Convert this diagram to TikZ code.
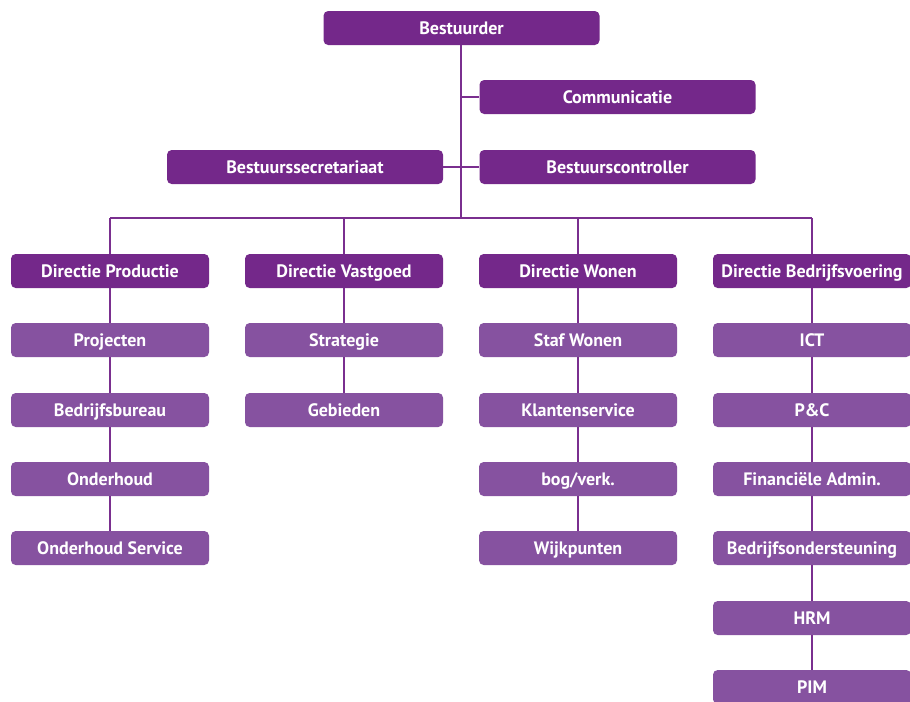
\documentclass[tikz,border=0pt]{standalone}
\usepackage{fontspec}
\setmainfont{PT Sans}
\definecolor{boxdark}{HTML}{74288A}
\definecolor{boxlight}{HTML}{8652A0}
\definecolor{linkcol}{HTML}{7A2F8F}
\begin{document}
\begin{tikzpicture}[x=0.75pt,y=-0.75pt,
  box/.style={rounded corners=3.5pt,minimum width=148.5pt,minimum height=25.5pt,
    inner sep=0pt,text height=9.5pt,text depth=0pt,text=white,
    font=\fontsize{13.5}{15}\selectfont\bfseries,anchor=center},
  topbox/.style={box,fill=boxdark,minimum width=207pt},
  headbox/.style={box,fill=boxdark},
  unitbox/.style={box,fill=boxlight},
  link/.style={draw=linkcol,line width=0.9pt}]
\useasboundingbox (0,0) rectangle (910,701);
% board level
\node[topbox] (best) at (461.5,28) {Bestuurder};
\node[topbox] (comm) at (617.5,97) {Communicatie};
\node[topbox] (secr) at (305,167) {Bestuurssecretariaat};
\node[topbox] (ctrl) at (617.5,167) {Bestuurscontroller};
\coordinate (spine) at (461,218);
\coordinate (jc) at (461,97);
\coordinate (lend) at (110,218);
\coordinate (rend) at (812,218);
\draw[link] (best.south -| spine) -- (spine);
\draw[link] (jc) -- (comm.west);
\draw[link] (secr.east) -- (ctrl.west);
\draw[link] (lend) -- (rend);
% directorates
\node[headbox] (dp) at (110,271) {Directie Productie};
\node[headbox] (dv) at (344,271) {Directie Vastgoed};
\node[headbox] (dw) at (578,271) {Directie Wonen};
\node[headbox] (db) at (812,271) {Directie Bedrijfsvoering};
\foreach \d in {dp,dv,dw,db} \draw[link] (\d.north) -- (\d.north |- spine);
% Productie
\node[unitbox] (p1) at (110,340) {Projecten};
\node[unitbox] (p2) at (110,410) {Bedrijfsbureau};
\node[unitbox] (p3) at (110,479) {Onderhoud};
\node[unitbox] (p4) at (110,548) {Onderhoud Service};
% Vastgoed
\node[unitbox] (v1) at (344,340) {Strategie};
\node[unitbox] (v2) at (344,410) {Gebieden};
% Wonen
\node[unitbox] (w1) at (578,340) {Staf Wonen};
\node[unitbox] (w2) at (578,410) {Klantenservice};
\node[unitbox] (w3) at (578,479) {bog/verk.};
\node[unitbox] (w4) at (578,548) {Wijkpunten};
% Bedrijfsvoering
\node[unitbox] (b1) at (812,340) {ICT};
\node[unitbox] (b2) at (812,410) {P\&C};
\node[unitbox] (b3) at (812,479) {Financiële Admin.};
\node[unitbox] (b4) at (812,548) {Bedrijfsondersteuning};
\node[unitbox] (b5) at (812,618) {HRM};
\node[unitbox] (b6) at (812,687) {PIM};
\draw[link] (dp.south) -- (p1.north) (p1.south) -- (p2.north) (p2.south) -- (p3.north) (p3.south) -- (p4.north);
\draw[link] (dv.south) -- (v1.north) (v1.south) -- (v2.north);
\draw[link] (dw.south) -- (w1.north) (w1.south) -- (w2.north) (w2.south) -- (w3.north) (w3.south) -- (w4.north);
\draw[link] (db.south) -- (b1.north) (b1.south) -- (b2.north) (b2.south) -- (b3.north) (b3.south) -- (b4.north) (b4.south) -- (b5.north) (b5.south) -- (b6.north);
\end{tikzpicture}
\end{document}
